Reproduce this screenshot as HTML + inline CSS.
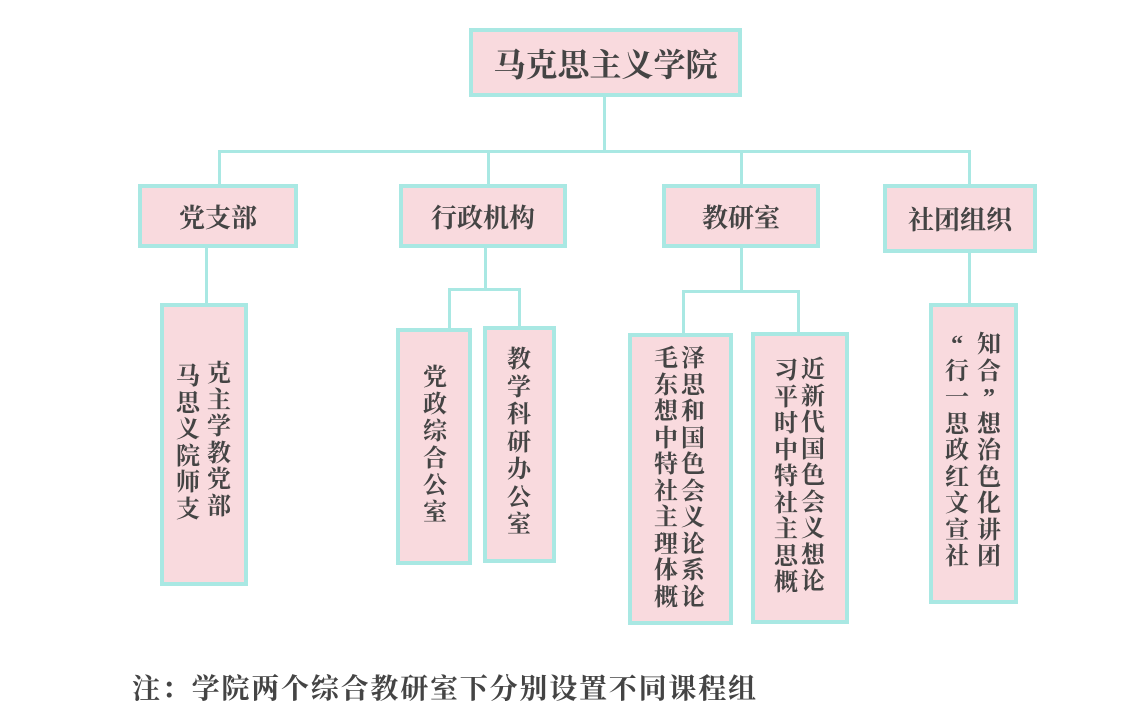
<!DOCTYPE html>
<html><head><meta charset="utf-8"><style>
body{margin:0;width:1136px;height:725px;background:#fff;position:relative;overflow:hidden;font-family:"Liberation Serif","Noto Serif CJK SC",serif;color:#444;font-weight:bold}
.b{position:absolute;box-sizing:border-box;background:#f9dade;border:4px solid #a9e8e3}
.t{position:absolute;display:flex;align-items:center;justify-content:center}
.c{position:absolute;width:26px;text-align:center;font-size:24px;line-height:26.5px}
.l{position:absolute;background:#a9e8e3}
</style></head><body>
<div class="l" style="left:603px;top:96px;width:3px;height:56px"></div>
<div class="l" style="left:218px;top:150px;width:753px;height:3px"></div>
<div class="l" style="left:218px;top:150px;width:3px;height:36px"></div>
<div class="l" style="left:487px;top:150px;width:3px;height:36px"></div>
<div class="l" style="left:740px;top:150px;width:3px;height:36px"></div>
<div class="l" style="left:968px;top:150px;width:3px;height:36px"></div>
<div class="l" style="left:205px;top:246px;width:3px;height:60px"></div>
<div class="l" style="left:484px;top:246px;width:3px;height:44px"></div>
<div class="l" style="left:448px;top:288px;width:73px;height:3px"></div>
<div class="l" style="left:448px;top:288px;width:3px;height:42px"></div>
<div class="l" style="left:518px;top:288px;width:3px;height:42px"></div>
<div class="l" style="left:740px;top:246px;width:3px;height:46px"></div>
<div class="l" style="left:682px;top:290px;width:118px;height:3px"></div>
<div class="l" style="left:682px;top:290px;width:3px;height:46px"></div>
<div class="l" style="left:797px;top:290px;width:3px;height:46px"></div>
<div class="l" style="left:968px;top:250px;width:3px;height:56px"></div>
<div class="b t" style="left:469px;top:28px;width:273px;height:69px;font-size:32px">马克思主义学院</div>
<div class="b t" style="left:138px;top:184px;width:160px;height:64px;font-size:26px">党支部</div>
<div class="b t" style="left:399px;top:184px;width:168px;height:64px;font-size:26px">行政机构</div>
<div class="b t" style="left:662px;top:184px;width:158px;height:64px;font-size:26px">教研室</div>
<div class="b t" style="left:883px;top:184px;width:154px;height:69px;font-size:26px">社团组织</div>
<div class="b" style="left:160px;top:303px;width:88px;height:283px"></div>
<div class="c" style="left:175px;top:364px">马<br>思<br>义<br>院<br>师<br>支</div>
<div class="c" style="left:206px;top:361px">克<br>主<br>学<br>教<br>党<br>部</div>
<div class="b" style="left:396px;top:328px;width:76px;height:237px"></div>
<div class="c" style="left:422px;top:365px;line-height:27px">党<br>政<br>综<br>合<br>公<br>室</div>
<div class="b" style="left:483px;top:326px;width:73px;height:237px"></div>
<div class="c" style="left:506px;top:347px;line-height:27.5px">教<br>学<br>科<br>研<br>办<br>公<br>室</div>
<div class="b" style="left:628px;top:333px;width:105px;height:292px"></div>
<div class="c" style="left:653px;top:346px">毛<br>东<br>想<br>中<br>特<br>社<br>主<br>理<br>体<br>概</div>
<div class="c" style="left:680px;top:346px">泽<br>思<br>和<br>国<br>色<br>会<br>义<br>论<br>系<br>论</div>
<div class="b" style="left:751px;top:332px;width:98px;height:292px"></div>
<div class="c" style="left:773px;top:358px">习<br>平<br>时<br>中<br>特<br>社<br>主<br>思<br>概</div>
<div class="c" style="left:800px;top:357px">近<br>新<br>代<br>国<br>色<br>会<br>义<br>想<br>论</div>
<div class="b" style="left:929px;top:303px;width:89px;height:301px"></div>
<div class="c" style="left:944px;top:332px">“<br>行<br>一<br>思<br>政<br>红<br>文<br>宣<br>社</div>
<div class="c" style="left:976px;top:332px">知<br>合<br>”<br>想<br>治<br>色<br>化<br>讲<br>团</div>
<div style="position:absolute;left:132px;top:672px;font-size:28px;letter-spacing:1.8px;line-height:36px;white-space:nowrap">注：学院两个综合教研室下分别设置不同课程组</div>
</body></html>
